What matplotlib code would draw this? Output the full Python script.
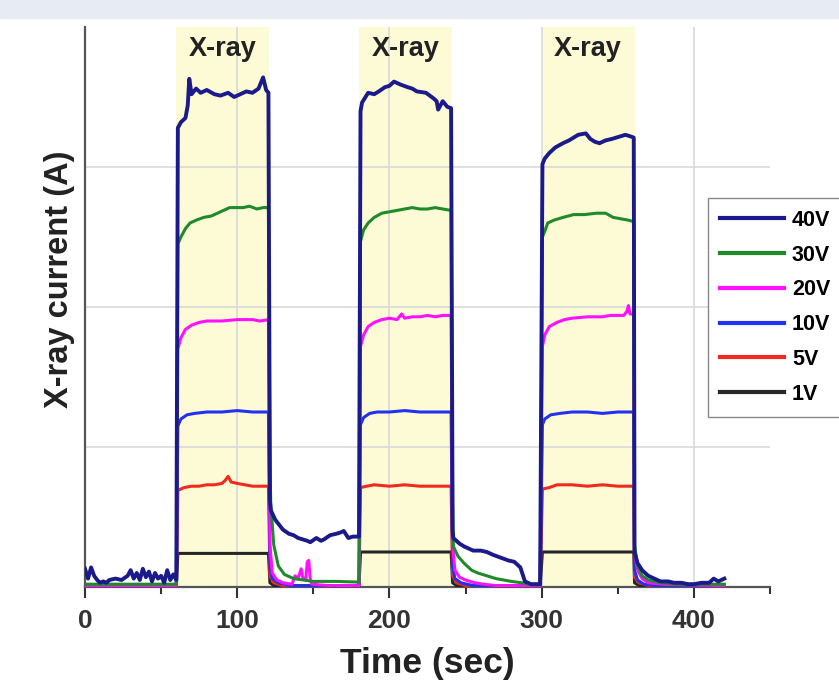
import matplotlib
matplotlib.use("Agg")
import matplotlib.pyplot as plt
from matplotlib.patches import Rectangle
from matplotlib.ticker import MultipleLocator

plt.rcParams['font.family'] = ['Liberation Sans', 'DejaVu Sans']
plt.rcParams['font.weight'] = 'bold'

# x-ray on windows (sec)
xray_on = [(60, 121), (180, 241), (300, 361)]
xray_label = "X-ray"

# 40V trace
t40 = [0, 2, 4, 6, 8, 10, 12, 14, 16, 20, 24, 28, 30, 32, 34, 36, 38, 40, 42, 44, 46, 48, 50, 52, 54, 56, 58, 60,
       61, 63, 66, 67.5, 68.5, 70, 73, 76, 80, 85, 89, 94, 98, 102, 106, 110, 114, 117, 119, 120.5,
       121.5, 122, 125, 130, 134, 137, 140, 143, 146, 148, 152, 155, 157, 161, 165, 168, 170, 173, 176, 178, 180,
       181, 182, 186, 190, 193, 197, 200, 203, 207, 212, 215, 218, 224, 229, 231, 232, 235, 238, 240.5,
       241.5, 242, 246, 249, 255, 260, 264, 268, 273, 278, 282, 286, 289, 293, 296, 299,
       300.5, 302, 305, 309, 314, 318, 321, 324, 329, 332, 335, 338, 342, 346, 349, 352, 355, 358, 360.5,
       361, 363, 366, 370, 374, 378, 383, 387, 392, 396, 400, 405, 410, 413, 416, 420]
v40 = [0.13, 0.06, 0.14, 0.08, 0.05, 0.03, 0.04, 0.03, 0.05, 0.06, 0.05, 0.08, 0.12, 0.06, 0.10, 0.05, 0.13, 0.07, 0.11, 0.04, 0.10, 0.06, 0.08, 0.03, 0.12, 0.05, 0.09, 0.05,
       3.28, 3.32, 3.35, 3.44, 3.63, 3.52, 3.56, 3.53, 3.55, 3.52, 3.51, 3.53, 3.50, 3.52, 3.54, 3.53, 3.56, 3.64, 3.55, 3.53,
       0.62, 0.55, 0.48, 0.41, 0.38, 0.37, 0.35, 0.34, 0.33, 0.32, 0.35, 0.33, 0.34, 0.37, 0.38, 0.39, 0.40, 0.35, 0.36, 0.36, 0.36,
       3.40, 3.46, 3.53, 3.52, 3.54, 3.57, 3.58, 3.61, 3.59, 3.57, 3.56, 3.54, 3.53, 3.49, 3.47, 3.41, 3.47, 3.43, 3.42,
       0.40, 0.35, 0.31, 0.29, 0.26, 0.26, 0.25, 0.23, 0.21, 0.19, 0.18, 0.14, 0.04, 0.02, 0.02, 0.02,
       3.02, 3.06, 3.10, 3.14, 3.17, 3.19, 3.21, 3.23, 3.24, 3.20, 3.18, 3.17, 3.19, 3.20, 3.21, 3.22, 3.23, 3.22, 3.21,
       0.25, 0.17, 0.12, 0.08, 0.06, 0.04, 0.04, 0.03, 0.03, 0.02, 0.02, 0.03, 0.03, 0.06, 0.04, 0.06]

# 30V trace
t30 = [0, 60,
       61, 63, 66, 69, 73, 78, 83, 87, 91, 95, 100, 104, 108, 113, 117, 120.5,
       121.5, 122, 124, 127, 131, 137, 150, 165, 180,
       181, 183, 186, 190, 195, 200, 205, 210, 215, 220, 225, 230, 235, 240.5,
       241.5, 242, 245, 249, 254, 258, 264, 270, 280, 287, 293, 299,
       300.5, 302, 304, 308, 314, 321, 328, 336, 342, 347, 352, 357, 360.5,
       361, 363, 366, 370, 378, 390, 420]
v30 = [0.02, 0.02,
       2.45, 2.50, 2.56, 2.60, 2.62, 2.64, 2.65, 2.67, 2.69, 2.71, 2.71, 2.71, 2.72, 2.70, 2.71, 2.71,
       0.9, 0.6, 0.3, 0.15, 0.09, 0.06, 0.04, 0.04, 0.035,
       2.47, 2.55, 2.60, 2.64, 2.67, 2.68, 2.69, 2.70, 2.71, 2.70, 2.70, 2.71, 2.70, 2.69,
       0.6, 0.29, 0.22, 0.17, 0.12, 0.10, 0.08, 0.06, 0.04, 0.03, 0.02, 0.02,
       2.50, 2.54, 2.60, 2.62, 2.64, 2.66, 2.66, 2.67, 2.67, 2.64, 2.63, 2.62, 2.61,
       0.3, 0.15, 0.08, 0.05, 0.03, 0.02, 0.02]

# 20V trace
t20 = [0, 60,
       61, 63, 66, 70, 75, 80, 90, 100, 110, 115, 120.5,
       121.5, 123, 126, 130, 136, 138, 140, 142, 143, 145, 146, 147, 148, 149, 160, 180,
       181, 183, 186, 190, 195, 200, 205, 208, 210, 215, 220, 225, 230, 235, 240.5,
       241.5, 243, 246, 250, 256, 262, 270, 280, 299,
       300.5, 302, 305, 310, 315, 320, 330, 340, 345, 350, 354, 356, 357, 358, 360.5,
       361, 363, 366, 370, 380, 420]
v20 = [0.01, 0.01,
       1.70, 1.78, 1.84, 1.87, 1.89, 1.90, 1.90, 1.91, 1.91, 1.90, 1.91,
       0.3, 0.1, 0.05, 0.03, 0.02, 0.08, 0.06, 0.13, 0.07, 0.05, 0.18, 0.19, 0.05, 0.02, 0.01, 0.01,
       1.72, 1.80, 1.86, 1.89, 1.91, 1.92, 1.91, 1.95, 1.92, 1.93, 1.93, 1.94, 1.93, 1.94, 1.94,
       0.3, 0.12, 0.07, 0.05, 0.03, 0.02, 0.01, 0.01, 0.01,
       1.72, 1.80, 1.86, 1.89, 1.91, 1.92, 1.93, 1.93, 1.94, 1.94, 1.94, 1.97, 2.01, 1.95, 1.95,
       0.25, 0.12, 0.06, 0.03, 0.02, 0.01]

# 10V trace
t10 = [0, 60,
       61, 63, 67, 72, 80, 90, 100, 110, 120.5,
       121.5, 123, 127, 135, 180,
       181, 183, 187, 192, 200, 210, 220, 230, 240.5,
       241.5, 243, 247, 255, 299,
       300.5, 302, 306, 312, 320, 330, 340, 350, 360.5,
       361, 363, 367, 375, 420]
v10 = [0.01, 0.01,
       1.15, 1.20, 1.23, 1.24, 1.25, 1.25, 1.26, 1.25, 1.25,
       0.15, 0.06, 0.03, 0.01, 0.01,
       1.16, 1.21, 1.24, 1.25, 1.25, 1.26, 1.25, 1.25, 1.25,
       0.15, 0.06, 0.03, 0.01, 0.01,
       1.16, 1.20, 1.23, 1.24, 1.25, 1.25, 1.24, 1.25, 1.25,
       0.12, 0.05, 0.02, 0.01, 0.01]

# 5V trace
t5 = [0, 60,
      61, 65, 70, 75, 80, 85, 90, 92, 94, 96, 100, 105, 110, 115, 120.5,
      121.5, 124, 130, 180,
      181, 185, 190, 200, 210, 220, 230, 240.5,
      241.5, 244, 250, 299,
      300.5, 305, 310, 320, 330, 340, 350, 355, 360.5,
      361, 364, 370, 420]
v5 = [0.01, 0.01,
      0.69, 0.71, 0.72, 0.72, 0.73, 0.73, 0.74, 0.76, 0.79, 0.75, 0.74, 0.73, 0.72, 0.72, 0.72,
      0.08, 0.03, 0.01, 0.01,
      0.71, 0.72, 0.73, 0.72, 0.73, 0.72, 0.72, 0.72,
      0.08, 0.03, 0.01, 0.01,
      0.70, 0.71, 0.73, 0.73, 0.72, 0.73, 0.72, 0.72, 0.72,
      0.07, 0.03, 0.01, 0.01]

# 1V trace
t1 = [0, 60, 61, 120.5, 121.5, 124, 130, 180, 181, 240.5, 241.5, 244, 250, 299,
      300.5, 360.5, 361, 364, 370, 420]
v1 = [0.01, 0.01, 0.24, 0.24, 0.03, 0.01, 0.01, 0.01, 0.25, 0.25, 0.03, 0.01, 0.01, 0.01,
      0.25, 0.25, 0.03, 0.01, 0.01, 0.01]

labels = ["40V", "30V", "20V", "10V", "5V", "1V"]
colors = ["#1b1a8a", "#1f8a2a", "#ff10ff", "#2430f0", "#f02a1e", "#262626"]
series = [(t40, v40), (t30, v30), (t20, v20), (t10, v10), (t5, v5), (t1, v1)]

fig = plt.figure(figsize=(8.39, 6.84), dpi=100)
fig.patches.append(Rectangle((0, 1 - 18 / 684), 1, 18 / 684, transform=fig.transFigure,
                             color="#e7ecf4", zorder=0))
ax = fig.add_axes([85 / 839, 97 / 684, (770 - 85) / 839, (587 - 27) / 684])

for a, b in xray_on:
    ax.axvspan(a, b, color="#fcfbd5", zorder=0, lw=0)
    ax.text((a + b) / 2, 3.84, xray_label, ha="center", va="center",
            fontsize=19.5, fontweight="bold", color="#222222")

lines = []
for (t, v), lab, c in zip(series, labels, colors):
    assert len(t) == len(v), lab
    lw = 2.8 if lab == "40V" else 2.2
    ln, = ax.plot(t, v, color=c, lw=lw, label=lab,
                  zorder=10 - labels.index(lab) * 0.1 + (0.5 if lab == "40V" else 0))
    lines.append(ln)

ax.set_xlim(0, 450)
ax.set_ylim(0, 4)
ax.xaxis.set_minor_locator(MultipleLocator(50))
ax.set_xticks([0, 100, 200, 300, 400])
ax.set_yticks([1, 2, 3])
ax.tick_params(axis="y", length=0, labelleft=False)
ax.tick_params(axis="x", which="major", length=8, width=1.5, labelsize=19, colors="#333333", pad=8)
ax.tick_params(axis="x", which="minor", length=5, width=1.5, colors="#333333")
for lab in ax.get_xticklabels():
    lab.set_fontweight("bold")

ax.grid(True, which="major", color="#d9d9d9", lw=1.2, zorder=1)
ax.set_axisbelow(True)
for s in ["top", "right"]:
    ax.spines[s].set_visible(False)
for s in ["left", "bottom"]:
    ax.spines[s].set_color("#555555")
    ax.spines[s].set_linewidth(1.6)

ax.set_xlabel("Time (sec)", fontsize=25.5, fontweight="bold", color="#222222")
ax.xaxis.set_label_coords(0.5, -0.108)
ax.set_ylabel("X-ray current (A)", fontsize=23.5, fontweight="bold", color="#222222")
ax.yaxis.set_label_coords(-0.015, 0.55)

leg = fig.legend(lines, labels, loc="upper left", bbox_to_anchor=(708 / 839, 1 - 198 / 684),
                 borderaxespad=0, fancybox=False, edgecolor="#888888", framealpha=1,
                 prop={"size": 15.5, "weight": "bold"}, handlelength=3, handletextpad=0.35,
                 labelspacing=0.64, borderpad=0.55)
for h in leg.get_lines():
    h.set_linewidth(3)

fig.savefig("out.png", dpi=100)
